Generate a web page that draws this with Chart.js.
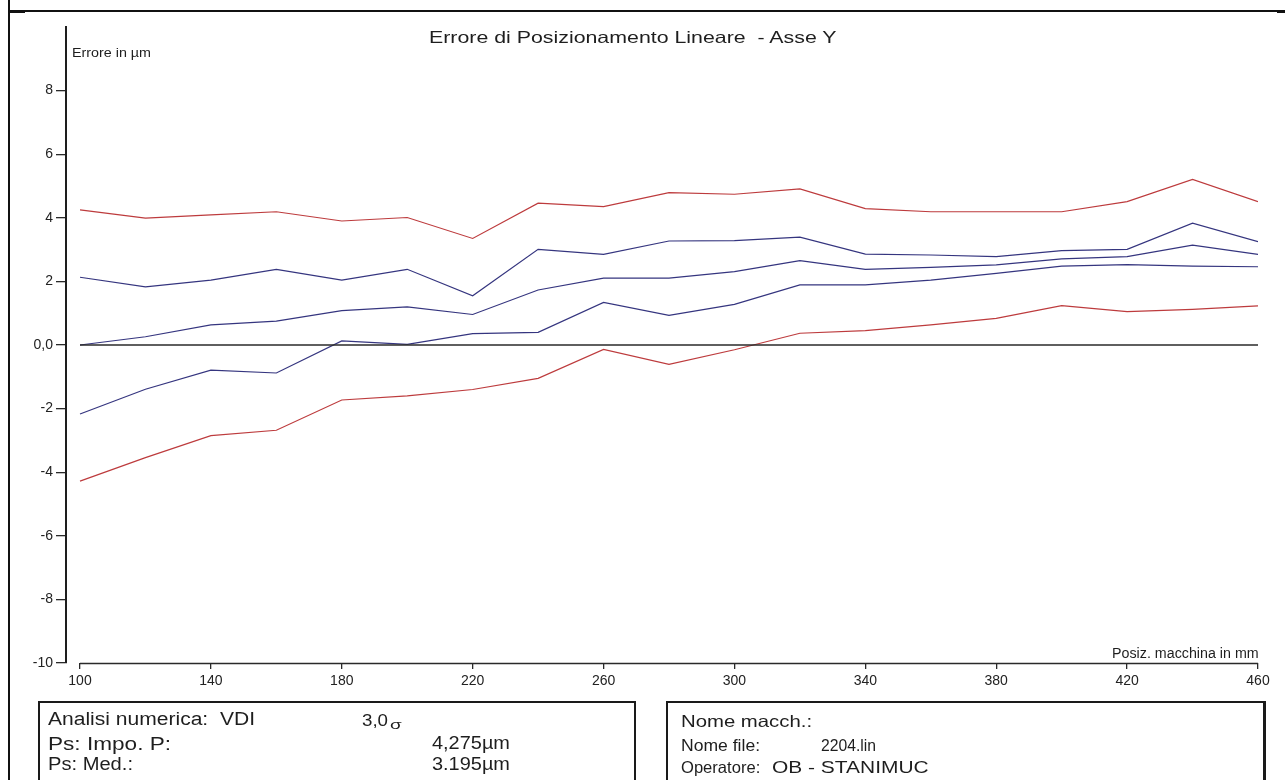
<!DOCTYPE html>
<html>
<head>
<meta charset="utf-8">
<script src="https://cdn.jsdelivr.net/npm/chart.js@4"></script>
<style>
  html, body { margin: 0; padding: 0; background: #fff; }
  #wrap { position: relative; width: 1285px; height: 780px; overflow: hidden; background: #fff;
          font-family: "Liberation Sans", Arial, sans-serif; color: #1e1e1e; }
  #c { position: absolute; left: 0; top: 0; }
  .t { position: absolute; white-space: pre; transform-origin: 0 0; }
  .rule { position: absolute; background: #111; }
  .box { position: absolute; border: 2px solid #1a1a1a; box-sizing: border-box; background: transparent; }
</style>
</head>
<body>
<div id="wrap">
  <canvas id="c" width="1285" height="780"></canvas>

  <!-- page frame -->
  <div class="rule" style="left:8px;top:0;width:2px;height:780px;"></div>
  <div class="rule" style="left:9px;top:10px;width:1276px;height:2px;"></div>
  <div class="rule" style="left:9px;top:10px;width:16px;height:3px;"></div>
  <div class="rule" style="left:1277px;top:10px;width:8px;height:3px;"></div>

  <!-- info boxes -->
  <div class="box" style="left:38px;top:701px;width:598px;height:110px;"></div>
  <div class="box" style="left:666px;top:701px;width:600px;height:110px;border-right-width:3px;"></div>
</div>

<script>
// Machine positions (mm)
const positions = [100, 120, 140, 160, 180, 200, 220, 240, 260, 280, 300, 320, 340, 360, 380, 400, 420, 440, 460];

// Upper limit (red)
const limiteSup = [4.25, 3.99, 4.09, 4.19, 3.90, 4.01, 3.35, 4.46, 4.35, 4.79, 4.74, 4.91, 4.29, 4.19, 4.19, 4.19, 4.51, 5.21, 4.51];
// Upper mean run (blue)
const mediaSup = [2.13, 1.83, 2.04, 2.38, 2.04, 2.38, 1.55, 3.01, 2.85, 3.27, 3.28, 3.39, 2.86, 2.83, 2.78, 2.97, 3.01, 3.83, 3.25];
// Central mean (blue)
const mediaCentrale = [0.00, 0.26, 0.63, 0.75, 1.08, 1.20, 0.96, 1.73, 2.10, 2.10, 2.31, 2.65, 2.38, 2.44, 2.52, 2.71, 2.78, 3.14, 2.85];
// Lower mean run (blue)
const mediaInf = [-2.17, -1.39, -0.79, -0.88, 0.13, 0.02, 0.36, 0.40, 1.34, 0.93, 1.28, 1.89, 1.89, 2.04, 2.25, 2.48, 2.53, 2.48, 2.46];
// Lower limit (red)
const limiteInf = [-4.28, -3.54, -2.85, -2.68, -1.73, -1.60, -1.40, -1.05, -0.14, -0.61, -0.15, 0.37, 0.45, 0.63, 0.84, 1.24, 1.05, 1.12, 1.23];

// Axis ticks
const xTicks = [100, 140, 180, 220, 260, 300, 340, 380, 420, 460];
const yTicks = [-10, -8, -6, -4, -2, 0, 2, 4, 6, 8];
const yTickLabels = ['-10', '-8', '-6', '-4', '-2', '0,0', '2', '4', '6', '8'];

const FONT = '"Liberation Sans", Arial, sans-serif';
const RED = '#bd3b3d';
const BLUE = '#35357f';

const pts = arr => positions.map((p, i) => ({ x: p, y: arr[i] }));

// x axis baseline, from the first to the last position only
const xAxisLine = {
  id: 'xAxisLine',
  beforeDatasetsDraw(chart) {
    const { ctx, scales: { x, y } } = chart;
    const yb = Math.round(y.getPixelForValue(y.min)) + 0.5;
    ctx.save();
    ctx.strokeStyle = '#2a2a2a';
    ctx.lineWidth = 1.6;
    ctx.beginPath();
    ctx.moveTo(x.getPixelForValue(xTicks[0]), yb);
    ctx.lineTo(x.getPixelForValue(xTicks[xTicks.length - 1]), yb);
    ctx.stroke();
    ctx.restore();
  }
};

const line = (arr, color, w) => ({
  data: pts(arr), borderColor: color, borderWidth: w, pointRadius: 0, tension: 0, fill: false
});

new Chart(document.getElementById('c'), {
  type: 'line',
  data: {
    datasets: [
      line(positions.map(() => 0), '#2a2a2a', 1.5),
      line(limiteSup, RED, 1.2),
      line(mediaSup, BLUE, 1.2),
      line(mediaCentrale, BLUE, 1.2),
      line(mediaInf, BLUE, 1.2),
      line(limiteInf, RED, 1.2)
    ]
  },
  options: {
    responsive: false,
    animation: false,
    devicePixelRatio: 1,
    layout: { padding: { top: 27, right: 27, left: 0, bottom: 0 } },
    plugins: { legend: { display: false }, tooltip: { enabled: false }, title: { display: false } },
    scales: {
      x: {
        type: 'linear',
        min: 95.72,
        max: 460,
        afterBuildTicks: s => { s.ticks = xTicks.map(v => ({ value: v })); },
        afterFit: s => { s.height = 117; },
        grid: { drawOnChartArea: false, drawTicks: true, tickLength: 6, color: '#2a2a2a', lineWidth: 1.3 },
        border: { display: false },
        ticks: {
          padding: 4, autoSkip: false, maxRotation: 0, color: '#222',
          font: { family: FONT, size: 14 },
          callback: v => String(v)
        }
      },
      y: {
        min: -10,
        max: 10,
        afterBuildTicks: s => { s.ticks = yTicks.map(v => ({ value: v })); },
        afterFit: s => { s.width = 66; },
        grid: { drawOnChartArea: false, drawTicks: true, tickLength: 10, color: '#2a2a2a', lineWidth: 1.3 },
        border: { display: true, color: '#1e1e1e', width: 2 },
        ticks: {
          padding: 3, color: '#222',
          font: { family: FONT, size: 14 },
          callback: v => yTickLabels[yTicks.indexOf(v)]
        }
      }
    }
  },
  plugins: [xAxisLine]
});

// Text placed by left edge, baseline, font size and rendered width
const texts = [
  ['Errore di Posizionamento Lineare  - Asse Y', 429, 42.7, 16.5, 409],
  ['Errore in µm', 71.7, 56.7, 13, 79],
  ['Posiz. macchina in mm', 1111.7, 658.3, 14, 146.6],
  ['Analisi numerica:  VDI', 48.3, 725, 18, 207],
  ['3,0', 362.3, 727, 16, 26],
  ['σ', 390, 730, 12.5, 11.7],
  ['Ps: Impo. P:', 48.3, 750, 18, 123],
  ['4,275µm', 431.7, 750, 17.5, 78],
  ['Ps: Med.:', 48.3, 770.5, 18, 85],
  ['3.195µm', 431.7, 771, 17.5, 78],
  ['Nome macch.:', 680.7, 727, 16.5, 131],
  ['Nome file:', 680.7, 751, 16.5, 79],
  ['2204.lin', 821, 751, 16.5, 55],
  ['Operatore:', 680.7, 773, 16.5, 79.3],
  ['OB - STANIMUC', 771.7, 773, 16.5, 156.6]
];

const wrap = document.getElementById('wrap');
const mctx = document.createElement('canvas').getContext('2d');
texts.forEach(([str, left, base, size, w]) => {
  const el = document.createElement('div');
  el.className = 't';
  el.textContent = str;
  el.style.fontSize = size + 'px';
  el.style.lineHeight = size + 'px';
  el.style.left = left + 'px';
  el.style.top = (base - 0.8465 * size) + 'px';
  mctx.font = size + 'px ' + FONT;
  const k = w / mctx.measureText(str).width;
  el.style.transform = 'scaleX(' + k.toFixed(3) + ')';
  wrap.appendChild(el);
});
</script>
</body>
</html>
